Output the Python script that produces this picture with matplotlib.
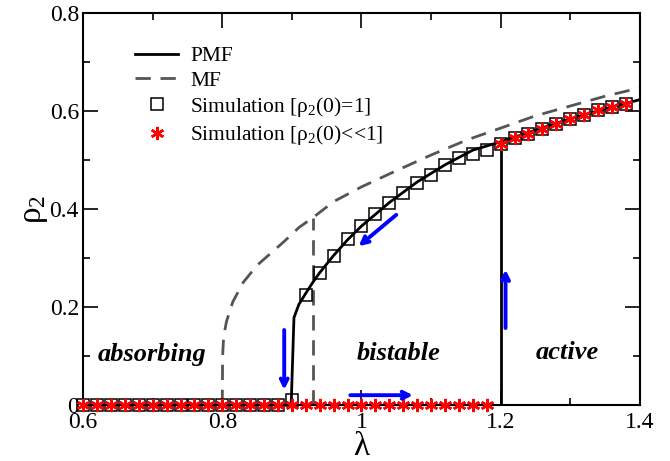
import numpy as np
import matplotlib
matplotlib.use("Agg")
import matplotlib.pyplot as plt
from matplotlib.ticker import MultipleLocator

plt.rcParams['font.family'] = ['Liberation Serif', 'DejaVu Serif']
plt.rcParams['mathtext.fontset'] = 'custom'
plt.rcParams['mathtext.rm'] = 'Liberation Serif'
plt.rcParams['mathtext.it'] = 'Liberation Serif:italic'

# PMF (pair mean field) upper branch
pmf_lam = [0.899, 0.903, 0.91, 0.92, 0.93, 0.94, 0.96, 0.98, 1.0, 1.04, 1.08,
           1.12, 1.16, 1.2, 1.24, 1.28, 1.32, 1.36, 1.4]
pmf_rho = [0.0, 0.178, 0.205, 0.228, 0.25, 0.27, 0.305, 0.337, 0.365, 0.413, 0.455,
           0.49, 0.52, 0.537, 0.556, 0.575, 0.592, 0.608, 0.623]
pmf_jump = 1.2          # lower branch ends here
pmf_jump_top = 0.533

# MF (mean field)
mf_lam = [0.8, 0.8005, 0.802, 0.806, 0.815, 0.83, 0.85, 0.87, 0.89, 0.91, 0.93,
          0.96, 1.0, 1.05, 1.1, 1.15, 1.2, 1.25, 1.3, 1.35, 1.4]
mf_rho = [0.0, 0.1, 0.14, 0.17, 0.21, 0.25, 0.285, 0.31, 0.335, 0.362, 0.382,
          0.415, 0.445, 0.478, 0.51, 0.54, 0.565, 0.59, 0.61, 0.63, 0.647]
mf_drop = 0.93

# simulation starting from rho2(0)=1
sim1_lam = np.round(np.arange(0.6, 1.381, 0.02), 2)
sim1_rho = [0]*15 + [0.01, 0.224, 0.27, 0.305, 0.338, 0.366, 0.39, 0.412, 0.433,
                     0.453, 0.47, 0.49, 0.504, 0.512, 0.52,
                     0.532, 0.545, 0.553, 0.563, 0.573, 0.584, 0.592, 0.601, 0.608, 0.615]

# simulation starting from rho2(0)<<1
sim2_lam = np.round(np.arange(0.6, 1.381, 0.02), 2)
sim2_rho = [0]*30 + [0.532, 0.545, 0.553, 0.563, 0.573, 0.584, 0.592, 0.601, 0.608, 0.615]

fig = plt.figure(figsize=(6.7, 4.61), dpi=100)
ax = fig.add_axes([0.124, 0.1215, 0.831, 0.8505])

gray = '#555555'
ax.plot(mf_lam, mf_rho, color=gray, lw=2, dashes=(5.5, 3.5), label='MF', zorder=2)
ax.plot([mf_drop, mf_drop], [0, mf_rho[mf_lam.index(mf_drop)]], color=gray, lw=2,
        dashes=(5.5, 3.5), zorder=2)

ax.plot(pmf_lam, pmf_rho, color='black', lw=2, label='PMF', zorder=3)
ax.plot([0.6, pmf_jump], [0, 0], color='black', lw=2, zorder=3)
ax.plot([pmf_jump, pmf_jump], [0, pmf_jump_top], color='black', lw=2, zorder=3)

ax.plot(sim1_lam, sim1_rho, ls='none', marker='s', ms=8.5, mfc='none', mec='black',
        mew=1.1, label=r'Simulation [ρ$_2$(0)=1]', zorder=4, clip_on=False)
ax.plot(sim2_lam, sim2_rho, ls='none', marker=(6, 2, 0), ms=9.5, mec='red', mew=1.8,
        label=r'Simulation [ρ$_2$(0)<<1]', zorder=5, clip_on=False)

# arrows
arrows = [((1.05, 0.388), (0.996, 0.324)),
          ((0.889, 0.153), (0.889, 0.031)),
          ((0.984, 0.02), (1.074, 0.02)),
          ((1.207, 0.157), (1.207, 0.276))]
for tail, tip in arrows:
    ax.annotate('', xy=tip, xytext=tail,
                arrowprops=dict(arrowstyle='->,head_length=0.5,head_width=0.25',
                                color='blue', lw=2.8, shrinkA=0, shrinkB=0), zorder=6)

for x, y, s in [(0.699, 0.102, 'absorbing'), (1.053, 0.106, 'bistable'), (1.296, 0.108, 'active')]:
    ax.text(x, y, s, ha='center', va='center', fontsize=19, fontweight='bold',
            fontstyle='italic')

ax.set_xlim(0.6, 1.4)
ax.set_ylim(0, 0.8)
ax.xaxis.set_major_locator(MultipleLocator(0.2))
ax.xaxis.set_minor_locator(MultipleLocator(0.1))
ax.yaxis.set_major_locator(MultipleLocator(0.2))
ax.yaxis.set_minor_locator(MultipleLocator(0.1))
fmt = plt.FuncFormatter(lambda v, p: '%g' % round(v, 2))
ax.xaxis.set_major_formatter(fmt)
ax.yaxis.set_major_formatter(fmt)
ax.tick_params(which='both', direction='in', top=True, right=True, labelsize=17, width=1.2)
ax.tick_params(which='major', length=11)
ax.tick_params(which='minor', length=5)
ax.tick_params(axis='x', which='major', pad=5)
ax.tick_params(axis='y', which='major', pad=3)
for sp in ax.spines.values():
    sp.set_linewidth(1.5)

ax.set_xlabel('λ', fontsize=24)
ax.xaxis.label.set_va('baseline')
ax.xaxis.set_label_coords(0.5, -0.127)
ax.set_ylabel('ρ$_2$', fontsize=24, labelpad=0)

handles, labels = ax.get_legend_handles_labels()
order = [1, 0, 2, 3]
ax.legend([handles[i] for i in order], [labels[i] for i in order], loc='upper left',
          bbox_to_anchor=(0.078, 0.937), frameon=False, fontsize=15.5, handlelength=2.0,
          labelspacing=0.2, handletextpad=0.55, borderaxespad=0)

fig.savefig('out.png', dpi=100)
